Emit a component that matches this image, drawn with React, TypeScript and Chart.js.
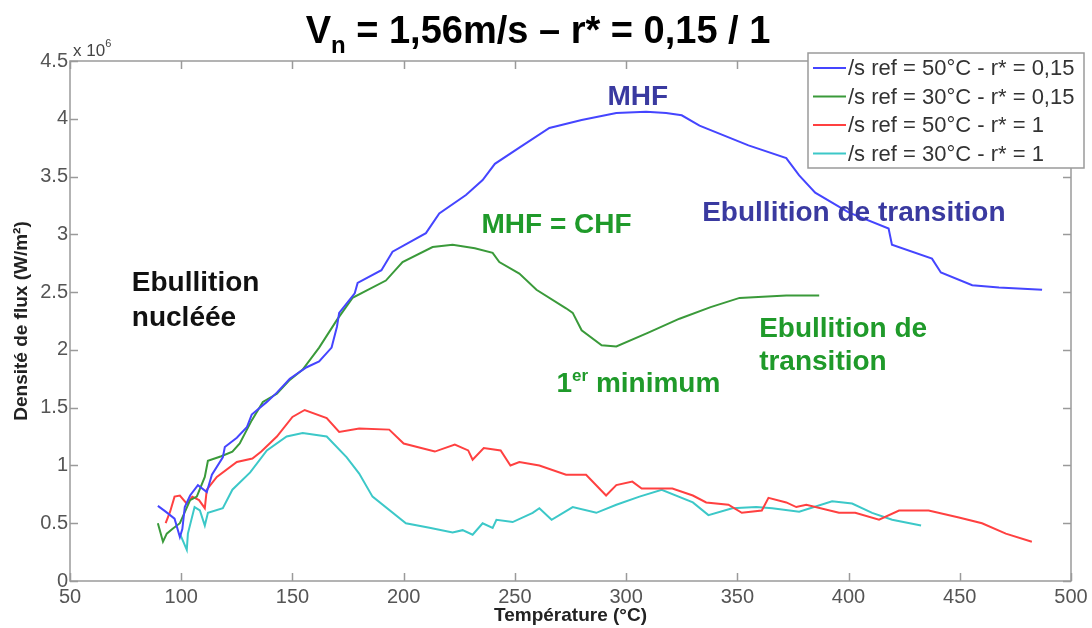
import React, { useEffect, useRef } from 'react';
import { Chart, registerables } from 'chart.js';
Chart.register(...registerables);

const FONT = "'Liberation Sans', Arial, sans-serif";

// Température (°C) / Densité de flux (x 10^6 W/m²)
const blueT = [89.5, 93, 97, 99.4, 100.5, 101.6, 104, 107.5, 111.5, 113.8, 118.7, 119.6, 125, 129.5, 131.7, 138.5, 143, 148.8, 156.4, 162, 167.6, 170, 171, 178, 179.3, 190, 195, 210, 216, 228, 235.5, 241, 252, 265.5, 280, 295.6, 309, 318, 325, 333, 355, 372, 377.8, 385, 400, 418, 419.5, 437.5, 441.5, 455.6, 467.6, 487];
const blueV = [0.65, 0.6, 0.54, 0.38, 0.45, 0.64, 0.74, 0.83, 0.77, 0.92, 1.07, 1.16, 1.24, 1.33, 1.44, 1.55, 1.63, 1.75, 1.85, 1.9, 2.02, 2.2, 2.32, 2.49, 2.58, 2.69, 2.85, 3.01, 3.18, 3.34, 3.47, 3.61, 3.75, 3.92, 3.99, 4.05, 4.06, 4.05, 4.03, 3.94, 3.77, 3.66, 3.51, 3.36, 3.19, 3.05, 2.91, 2.79, 2.67, 2.56, 2.54, 2.52];

const greenT = [89.5, 91.8, 93.5, 96, 99.4, 104, 107, 110.6, 112, 118, 123, 126.3, 131.7, 136.7, 143, 148.8, 154.6, 162, 170, 177, 192, 199.5, 213, 222, 232, 240, 243, 252, 259.7, 273, 276, 280, 289, 295.6, 310, 324, 338, 351, 372, 386.8];
const greenV = [0.5, 0.34, 0.41, 0.45, 0.5, 0.7, 0.73, 0.9, 1.04, 1.08, 1.12, 1.19, 1.39, 1.55, 1.62, 1.74, 1.83, 2.02, 2.26, 2.45, 2.6, 2.76, 2.89, 2.91, 2.88, 2.84, 2.76, 2.66, 2.52, 2.36, 2.32, 2.17, 2.04, 2.03, 2.15, 2.27, 2.37, 2.45, 2.47, 2.47];

const redT = [93, 95, 97, 99.4, 102.5, 105, 108, 110.6, 111.5, 116, 125, 132, 136, 143, 150, 155.5, 165.4, 171, 180, 193.5, 200, 214, 223, 229, 231, 236, 243.6, 248, 252, 261, 273, 282, 291, 295.6, 302.8, 307, 320.8, 330, 336, 346, 352, 361, 364, 372, 376.5, 381, 395.7, 403, 413.7, 422.7, 436, 449.6, 460, 470.7, 482.4];
const redV = [0.5, 0.6, 0.73, 0.74, 0.67, 0.73, 0.7, 0.63, 0.79, 0.9, 1.03, 1.06, 1.12, 1.25, 1.42, 1.48, 1.41, 1.29, 1.32, 1.31, 1.19, 1.12, 1.18, 1.13, 1.05, 1.15, 1.13, 1.0, 1.03, 1.0, 0.92, 0.92, 0.74, 0.83, 0.86, 0.8, 0.8, 0.74, 0.68, 0.66, 0.59, 0.61, 0.72, 0.68, 0.64, 0.66, 0.59, 0.59, 0.53, 0.61, 0.61, 0.55, 0.5, 0.41, 0.34];

const cyanT = [99.4, 102.5, 103, 106, 108.4, 110.6, 112, 118.7, 123, 131, 138.5, 147.4, 154.6, 165.4, 174.4, 180, 186, 201, 211.6, 222, 226.5, 231, 235.5, 240, 241.7, 249, 258, 261, 266.5, 276, 286.6, 295.6, 306, 316, 330, 337, 347.7, 358.5, 365.7, 377.8, 392.6, 401.6, 410.6, 419.6, 432.6];
const cyanV = [0.41, 0.27, 0.41, 0.64, 0.61, 0.48, 0.59, 0.63, 0.79, 0.94, 1.13, 1.25, 1.28, 1.25, 1.07, 0.93, 0.73, 0.5, 0.46, 0.42, 0.44, 0.4, 0.5, 0.46, 0.53, 0.51, 0.59, 0.63, 0.53, 0.64, 0.59, 0.66, 0.73, 0.79, 0.68, 0.57, 0.63, 0.64, 0.63, 0.6, 0.69, 0.67, 0.59, 0.53, 0.48];

const seriesLabels = [
  '/s ref = 50°C - r* = 0,15',
  '/s ref = 30°C - r* = 0,15',
  '/s ref = 50°C - r* = 1',
  '/s ref = 30°C - r* = 1',
];
const seriesColors = ['#4545ff', '#3a9a3a', '#ff4040', '#3cc8c8'];

const xMin = 50, xMax = 500, xStep = 50;
const yMin = 0, yMax = 4.5, yStep = 0.5;

const BLUE_TXT = '#3a3aa0';
const GREEN_TXT = '#1f9a2a';
// annotations: [x (°C), y (x10^6), runs]
type Run = { t: string; sup?: boolean };
const annotations: { x: number; y: number; color: string; runs: Run[] }[] = [
  { x: 291.6, y: 4.19, color: BLUE_TXT, runs: [{ t: 'MHF' }] },
  { x: 334.2, y: 3.18, color: BLUE_TXT, runs: [{ t: 'Ebullition de transition' }] },
  { x: 235, y: 3.08, color: GREEN_TXT, runs: [{ t: 'MHF = CHF' }] },
  { x: 77.8, y: 2.58, color: '#111', runs: [{ t: 'Ebullition' }] },
  { x: 77.8, y: 2.27, color: '#111', runs: [{ t: 'nucléée' }] },
  { x: 359.8, y: 2.18, color: GREEN_TXT, runs: [{ t: 'Ebullition de' }] },
  { x: 359.8, y: 1.89, color: GREEN_TXT, runs: [{ t: 'transition' }] },
  { x: 268.7, y: 1.7, color: GREEN_TXT, runs: [{ t: '1' }, { t: 'er', sup: true }, { t: ' minimum' }] },
];

const zip = (xs: number[], ys: number[]) => xs.map((x, i) => ({ x, y: ys[i] }));

const overlay = {
  id: 'overlay',
  afterDatasetsDraw(chart: any) {
    const { ctx, chartArea: a, scales } = chart;
    const xs = scales.x, ys = scales.y;
    ctx.save();
    // box
    ctx.strokeStyle = '#9a9a9a';
    ctx.lineWidth = 1.5;
    ctx.strokeRect(a.left, a.top, a.right - a.left, a.bottom - a.top);
    // inner ticks
    const tl = 8;
    ctx.beginPath();
    for (let v = xMin; v <= xMax; v += xStep) {
      const px = Math.round(xs.getPixelForValue(v)) + 0.5;
      ctx.moveTo(px, a.bottom); ctx.lineTo(px, a.bottom - tl);
      ctx.moveTo(px, a.top); ctx.lineTo(px, a.top + tl);
    }
    for (let v = yMin; v <= yMax + 1e-9; v += yStep) {
      const py = Math.round(ys.getPixelForValue(v)) + 0.5;
      ctx.moveTo(a.left, py); ctx.lineTo(a.left + tl, py);
      ctx.moveTo(a.right, py); ctx.lineTo(a.right - tl, py);
    }
    ctx.stroke();

    // exponent label
    ctx.fillStyle = '#444';
    ctx.textBaseline = 'alphabetic';
    ctx.textAlign = 'left';
    ctx.font = `17px ${FONT}`;
    ctx.fillText('x 10', a.left + 3, a.top - 5);
    const w10 = ctx.measureText('x 10').width;
    ctx.font = `11px ${FONT}`;
    ctx.fillText('6', a.left + 3 + w10, a.top - 14);

    // title
    ctx.fillStyle = '#000';
    ctx.font = `bold 38px ${FONT}`;
    const tMain = ' = 1,56m/s – r* = 0,15 / 1';
    const wV = ctx.measureText('V').width;
    const wMain = ctx.measureText(tMain).width;
    ctx.font = `bold 24px ${FONT}`;
    const wN = ctx.measureText('n').width;
    const total = wV + wN + wMain;
    let tx = 538 - total / 2;
    ctx.font = `bold 38px ${FONT}`;
    ctx.fillText('V', tx, 43);
    tx += wV;
    ctx.font = `bold 24px ${FONT}`;
    ctx.fillText('n', tx, 53);
    tx += wN;
    ctx.font = `bold 38px ${FONT}`;
    ctx.fillText(tMain, tx, 43);

    // annotations
    ctx.textBaseline = 'middle';
    for (const an of annotations) {
      let px = xs.getPixelForValue(an.x);
      const py = ys.getPixelForValue(an.y);
      ctx.fillStyle = an.color;
      for (const r of an.runs) {
        ctx.font = r.sup ? `bold 17px ${FONT}` : `bold 28px ${FONT}`;
        ctx.fillText(r.t, px, r.sup ? py - 8 : py);
        px += ctx.measureText(r.t).width;
      }
    }

    // legend
    const lx = 808, ly = 53, lw = 276, lh = 115;
    ctx.fillStyle = '#fff';
    ctx.fillRect(lx, ly, lw, lh);
    ctx.strokeStyle = '#9a9a9a';
    ctx.lineWidth = 1.5;
    ctx.strokeRect(lx, ly, lw, lh);
    ctx.font = `22px ${FONT}`;
    ctx.textBaseline = 'middle';
    chart.data.datasets.forEach((ds: any, i: number) => {
      const yy = ly + 15 + i * 28.5;
      ctx.strokeStyle = ds.borderColor;
      ctx.lineWidth = 2;
      ctx.beginPath();
      ctx.moveTo(lx + 5, yy); ctx.lineTo(lx + 38, yy);
      ctx.stroke();
      ctx.fillStyle = '#333';
      ctx.fillText(ds.label, lx + 40, yy + 1);
    });
    ctx.restore();
  },
};

export default function App() {
  const ref = useRef<HTMLCanvasElement>(null);
  useEffect(() => {
    document.body.style.margin = '0';
    const cv = ref.current!;
    const sets = [zip(blueT, blueV), zip(greenT, greenV), zip(redT, redV), zip(cyanT, cyanV)];
    const chart = new Chart(cv, {
      type: 'line',
      data: {
        datasets: sets.map((d, i) => ({
          label: seriesLabels[i],
          data: d,
          borderColor: seriesColors[i],
          backgroundColor: seriesColors[i],
          borderWidth: 2,
          pointRadius: 0,
          tension: 0,
          fill: false,
        })),
      },
      options: {
        responsive: false,
        animation: false,
        events: [],
        layout: { padding: { left: 0, right: 21, top: 61, bottom: 0 } },
        plugins: { legend: { display: false }, tooltip: { enabled: false }, title: { display: false } },
        scales: {
          x: {
            type: 'linear',
            min: xMin,
            max: xMax,
            ticks: { stepSize: xStep, color: '#555', font: { family: FONT, size: 20 }, padding: 4, maxRotation: 0, autoSkip: false },
            grid: { display: false, drawTicks: false },
            border: { display: false },
            title: { display: true, text: 'Température (°C)', color: '#222', font: { family: FONT, size: 19, weight: 'bold' }, padding: { top: 0, bottom: 1 } },
            afterFit: (s: any) => { s.height = 47; },
          },
          y: {
            type: 'linear',
            min: yMin,
            max: yMax,
            ticks: {
              stepSize: yStep, color: '#555', font: { family: FONT, size: 20 }, padding: 2, autoSkip: false,
              callback: (v: any) => String(Number(Number(v).toFixed(2))),
            },
            grid: { display: false, drawTicks: false },
            border: { display: false },
            title: { display: true, text: 'Densité de flux (W/m²)', color: '#222', font: { family: FONT, size: 19, weight: 'bold' }, padding: { top: 10, bottom: 0 } },
            afterFit: (s: any) => { s.width = 70; },
          },
        },
      } as any,
      plugins: [overlay],
    });
    return () => chart.destroy();
  }, []);
  return (
    <div style={{ width: 1092, height: 628 }}>
      <canvas ref={ref} width={1092} height={628} style={{ display: 'block' }} />
    </div>
  );
}
